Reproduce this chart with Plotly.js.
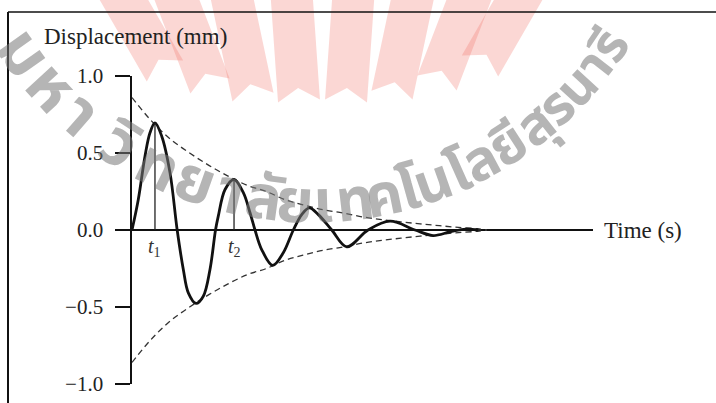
<!DOCTYPE html>
<html>
<head>
<meta charset="utf-8">
<script src="https://cdn.plot.ly/plotly-3.0.1.min.js"></script>
<style>html,body{margin:0;padding:0;background:#fff;}#chart{width:716px;height:403px;}</style>
</head>
<body>
<div id="chart"></div>
<script>
// ---- data ----
const timeS = [0, 0.082, 0.169, 0.234, 0.299, 0.387, 0.495, 0.588, 0.668, 0.733, 0.833, 0.928, 1.015, 1.087, 1.123, 1.211, 1.328, 1.449, 1.536, 1.601, 1.688, 1.831, 1.969, 2.100, 2.209, 2.308, 2.425, 2.600, 2.795, 3.072, 3.358, 3.683, 3.917, 4.139, 4.347, 4.503];
const displacementMm = [0, 0.198, 0.479, 0.631, 0.696, 0.609, 0.371, 0, -0.256, -0.408, -0.477, -0.43, -0.256, 0, 0.09, 0.263, 0.328, 0.242, 0.112, 0, -0.127, -0.23, -0.148, 0, 0.1, 0.144, 0.1, 0, -0.109, 0, 0.057, 0, -0.036, -0.012, 0.006, 0];
const envTime = [0, 0.25, 0.5, 0.75, 1.0, 1.25, 1.5, 1.75, 2.0, 2.25, 2.5, 2.75, 3.0, 3.25, 3.5, 3.75, 4.0, 4.25, 4.5, 4.62];
const envUpper = [0.86, 0.71, 0.59, 0.50, 0.42, 0.35, 0.29, 0.25, 0.195, 0.16, 0.13, 0.11, 0.085, 0.068, 0.053, 0.04, 0.028, 0.017, 0.008, 0];
const envLower = [-0.86, -0.71, -0.59, -0.50, -0.42, -0.35, -0.29, -0.25, -0.195, -0.16, -0.13, -0.11, -0.085, -0.068, -0.053, -0.04, -0.028, -0.017, -0.008, 0];
const markTime = [0.299, 1.328];
const markPeak = [0.696, 0.328];
const markLabels = ['<i>t</i><sub>1</sub>', '<i>t</i><sub>2</sub>'];
const yTickVals = [-1, -0.5, 0, 0.5, 1];
const yTickText = ['\u22121.0', '\u22120.5', '0.0', '0.5', '1.0'];
const yTitle = 'Displacement (mm)';
const xTitle = 'Time (s)';
const watermarkClusters = ['ม','ห','า','วิ','ท','ย','า','ลั','ย','เ','ท','ค','โ','น','โ','ล','ยี','สุ','ร','น','า','รี'];

// ---- layout geometry ----
const W = 716, H = 403, ML = 132, MR = 123, MT = 76, MB = 19;
const PW = W - ML - MR, PH = H - MT - MB;
const px2x = p => (p - ML) / PW;
const px2y = p => (H - MB - p) / PH;
const serif = 'Liberation Serif, Times New Roman, serif';

const traces = [
  {x: envTime, y: envUpper, mode: 'lines', line: {color: '#333', width: 1.3, dash: '6px,4px', shape: 'spline'}, hoverinfo: 'skip'},
  {x: envTime, y: envLower, mode: 'lines', line: {color: '#333', width: 1.3, dash: '6px,4px', shape: 'spline'}, hoverinfo: 'skip'},
  {x: timeS, y: displacementMm, mode: 'lines', line: {color: '#111', width: 2.8, shape: 'spline', smoothing: 1}, hoverinfo: 'skip'}
];
markTime.forEach((t, i) => {
  traces.push({x: [t, t], y: [0, markPeak[i]], mode: 'lines', line: {color: '#222', width: 1.3}, hoverinfo: 'skip'});
});

const shapes = [];
// frame lines
shapes.push({type: 'line', xref: 'paper', yref: 'paper', x0: px2x(8), x1: px2x(720), y0: px2y(12), y1: px2y(12), line: {color: '#111', width: 1.6}});
shapes.push({type: 'line', xref: 'paper', yref: 'paper', x0: px2x(8), x1: px2x(8), y0: px2y(12), y1: px2y(410), line: {color: '#111', width: 2}});

// logo fan (watermark)
const strips = [[165, 71, -30], [210, 86, -21], [253, 97, -12], [299, 101, -4], [346, 101, 4], [392, 95, 12], [437, 83, 21], [480, 66, 30]];
strips.forEach(s => {
  const [bx, by, a] = s; const r = a * Math.PI / 180;
  const ux = Math.sin(r), uy = -Math.cos(r), qx = Math.cos(r), qy = Math.sin(r);
  const w = 42, L = 115, notch = 13, tip = 14;
  const pt = (x, y) => px2x(x).toFixed(4) + ',' + px2y(y).toFixed(4);
  const pts = [
    [bx - qx * w / 2, by - qy * w / 2],
    [bx + ux * notch, by + uy * notch],
    [bx + qx * w / 2, by + qy * w / 2],
    [bx + qx * w / 2 + ux * L, by + qy * w / 2 + uy * L],
    [bx + ux * (L + tip), by + uy * (L + tip)],
    [bx - qx * w / 2 + ux * L, by - qy * w / 2 + uy * L]
  ];
  const path = 'M' + pts.map(p => pt(p[0], p[1])).join('L') + 'Z';
  shapes.push({type: 'path', xref: 'paper', yref: 'paper', path: path, fillcolor: 'rgba(240,110,100,0.28)', line: {width: 0}, layer: 'below'});
});

const annotations = [];
annotations.push({xref: 'paper', yref: 'paper', x: px2x(42), y: px2y(37), xanchor: 'left', yanchor: 'middle', text: yTitle, showarrow: false, font: {family: serif, size: 23, color: '#222'}});
annotations.push({xref: 'paper', yref: 'y', x: px2x(602), y: 0, xanchor: 'left', yanchor: 'middle', text: xTitle, showarrow: false, font: {family: serif, size: 23, color: '#222'}});
markTime.forEach((t, i) => {
  annotations.push({xref: 'x', yref: 'y', x: t, y: 0, yshift: -17, xanchor: 'center', yanchor: 'middle', text: markLabels[i], showarrow: false, font: {family: serif, size: 20, color: '#333'}});
});

// curved watermark text
const cx = 314, cy = -154, R = 358;
const wmAngles = [-54.5, -47.5, -41, -33, -26, -19.5, -13.5, -7.9, -3, 1.5, 6.5, 11.3, 15.5, 19.5, 24, 28, 33, 38.5, 43, 47.5, 52, 56];
watermarkClusters.forEach((c, i) => {
  const phi = wmAngles[i];
  const pr = phi * Math.PI / 180;
  const x = cx + R * Math.sin(pr), y = cy + R * Math.cos(pr);
  const size = 66 - 14 * i / (watermarkClusters.length - 1);
  annotations.push({xref: 'paper', yref: 'paper', x: px2x(x), y: px2y(y), xanchor: 'center', yanchor: 'middle', text: '<b>' + c + '</b>', textangle: -phi, showarrow: false, font: {family: 'Noto Sans Thai, Loma, Garuda, Tlwg Typist, Noto Sans, sans-serif', size: size, color: 'rgba(120,120,120,0.55)'}});
});

const layout = {
  width: W, height: H,
  margin: {l: ML, r: MR, t: MT, b: MB, pad: 0},
  paper_bgcolor: '#fff', plot_bgcolor: 'rgba(0,0,0,0)',
  showlegend: false,
  xaxis: {range: [0, 6], visible: false, fixedrange: true},
  yaxis: {range: [-1, 1], tickvals: yTickVals, ticktext: yTickText, ticks: 'outside', ticklen: 15, tickwidth: 1.5, tickcolor: '#111',
          showline: true, linecolor: '#111', linewidth: 1.6, showgrid: false, zeroline: true, zerolinecolor: '#111', zerolinewidth: 1.6,
          ticklabelstandoff: 8, tickfont: {family: serif, size: 21, color: '#222'}, fixedrange: true},
  shapes: shapes,
  annotations: annotations
};
Plotly.newPlot('chart', traces, layout, {staticPlot: true, displayModeBar: false});
</script>
</body>
</html>
